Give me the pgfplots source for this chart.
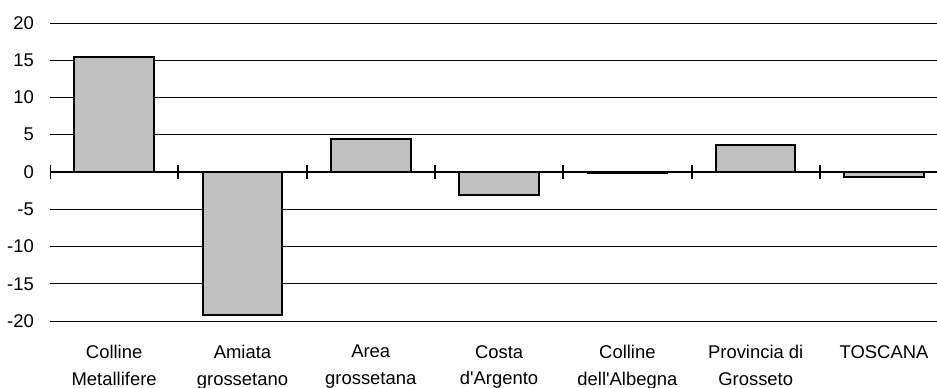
\documentclass[border=0pt]{standalone}
\usepackage{pgfplots}
\pgfplotsset{compat=1.18}
\usepackage{fontspec}
\setmainfont{Liberation Sans}
\definecolor{barfill}{HTML}{C0C0C0}

\begin{document}
\begin{tikzpicture}
\begin{axis}[
  at={(0,0)}, anchor=south west,
  scale only axis, width=887bp, height=298bp,
  xmin=-0.5, xmax=6.413, ymin=-20, ymax=20,
  axis line style={draw=none},
  major tick length=0pt,
  ytick={-20,-15,...,20},
  ymajorgrids, grid style={black, line width=0.8bp},
  xtick={0,...,6},
  xticklabels={{Colline\\Metallifere},{Amiata\\grossetano},{Area\\grossetana},{Costa\\d\textquotesingle Argento},{Colline\\dell\textquotesingle Albegna},{Provincia di\\Grosseto},{TOSCANA\\\strut}},
  xticklabel style={align=center, inner sep=0pt, anchor=north, yshift=-24bp,
    font=\fontsize{18.5}{27}\selectfont},
  yticklabel style={inner sep=0pt, anchor=east, xshift=-16bp,
    font=\fontsize{18.5}{20}\selectfont},
  /pgf/number format/assume math mode=true,
  ybar, bar width=0.62,
]
\addplot[fill=barfill, draw=black, line width=2bp]
  coordinates {(0,15.5) (1,-19.2) (2,4.4) (3,-3.1) (4,-0.2) (5,3.6) (6,-0.7)};
% zero line with category separators
\draw[line width=2bp] (axis cs:-0.5,0) -- (axis cs:6.413,0);
\draw[line width=2bp]
  ([yshift=7bp]axis cs:-0.5,0) -- ([yshift=-7bp]axis cs:-0.5,0)
  ([yshift=7bp]axis cs:0.5,0) -- ([yshift=-7bp]axis cs:0.5,0)
  ([yshift=7bp]axis cs:1.5,0) -- ([yshift=-7bp]axis cs:1.5,0)
  ([yshift=7bp]axis cs:2.5,0) -- ([yshift=-7bp]axis cs:2.5,0)
  ([yshift=7bp]axis cs:3.5,0) -- ([yshift=-7bp]axis cs:3.5,0)
  ([yshift=7bp]axis cs:4.5,0) -- ([yshift=-7bp]axis cs:4.5,0)
  ([yshift=7bp]axis cs:5.5,0) -- ([yshift=-7bp]axis cs:5.5,0);
\end{axis}
\pgfresetboundingbox
\path[use as bounding box] (-50bp,-67bp) rectangle (887bp,321bp);
\end{tikzpicture}
\end{document}
